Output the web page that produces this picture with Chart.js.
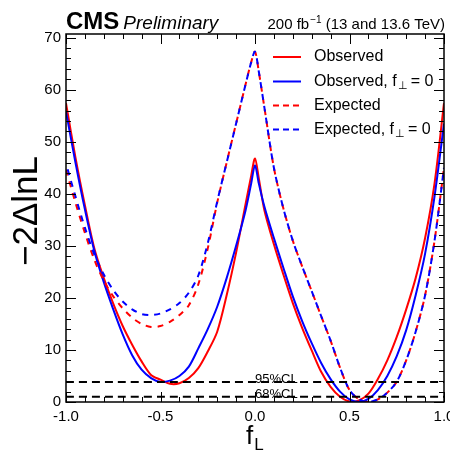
<!DOCTYPE html>
<html>
<head>
<meta charset="utf-8">
<script src="https://cdn.jsdelivr.net/npm/chart.js@4.4.0/dist/chart.umd.min.js"></script>
<style>
  html, body { margin: 0; padding: 0; background: #fff; }
</style>
</head>
<body>
<canvas id="myChart" width="450" height="451"></canvas>
<script>
"use strict";

// scan points (f_L)
const fL = [-1, -0.95, -0.9, -0.85, -0.8, -0.75, -0.7, -0.65, -0.6, -0.55, -0.5, -0.45, -0.4, -0.35, -0.3, -0.25, -0.2, -0.15, -0.1, -0.05, -0.02,
  0, 0.02, 0.05, 0.1, 0.15, 0.2, 0.25, 0.3, 0.35, 0.4, 0.45, 0.5, 0.55, 0.6, 0.65, 0.7, 0.75, 0.8, 0.85, 0.9, 0.95, 1];

// -2 delta lnL for each curve
const observed = [57.4, 47.0, 37.8, 29.5, 23.8, 18.9, 14.6, 11.0, 7.8, 5.2, 4.3, 3.5, 3.6, 4.6, 6.5, 9.7, 13.5, 20.5, 28.7, 38.0, 43.5,
  46.8, 43.0, 36.8, 30.3, 24.5, 19.0, 14.2, 9.9, 5.8, 2.9, 1.0, 0.1, 0.3, 1.6, 4.4, 8.0, 12.5, 17.8, 23.8, 31.5, 42.0, 57.4];
const observedPerp0 = [55.8, 46.0, 37.0, 29.0, 23.0, 17.8, 13.0, 9.0, 6.2, 4.6, 3.85, 4.1, 5.0, 6.8, 10.3, 14.0, 18.3, 23.8, 30.0, 36.8, 42.0,
  45.5, 42.0, 37.5, 31.5, 25.8, 20.3, 15.5, 11.3, 7.5, 4.4, 2.0, 0.5, 0.0, 0.6, 2.3, 5.0, 8.8, 13.8, 20.5, 28.5, 39.5, 53.5];
const expected = [44.6, 38.3, 32.5, 27.3, 23.3, 20.3, 18.0, 16.2, 15.0, 14.4, 14.6, 15.4, 16.7, 18.6, 22.6, 29.5, 38.3, 46.0, 53.5, 61.0, 65.3,
  67.3, 63.5, 56.5, 45.0, 37.2, 31.0, 26.0, 21.3, 16.5, 11.8, 6.6, 2.3, 0.5, 0.0, 0.5, 1.8, 3.9, 8.0, 13.5, 20.5, 31.0, 45.0];
const expectedPerp0 = [45.8, 39.5, 33.5, 28.3, 24.5, 21.5, 19.3, 17.8, 16.9, 16.7, 17.0, 17.8, 19.0, 21.0, 24.3, 30.5, 38.5, 46.0, 53.5, 61.0, 65.3,
  67.3, 63.5, 56.5, 45.0, 37.2, 31.0, 26.0, 21.3, 16.5, 11.8, 6.6, 2.3, 0.5, 0.0, 0.5, 1.8, 3.9, 8.0, 13.5, 20.5, 31.0, 45.0];

// confidence levels
const clValues = [3.84, 1];
const clLabels = ["95%CL", "68%CL"];

// axis ticks
const xTicks = [-1, -0.5, 0, 0.5, 1];
const yTicks = [0, 10, 20, 30, 40, 50, 60, 70];

const FONT = '"Liberation Sans", Arial, Helvetica, sans-serif';
Chart.defaults.font.family = FONT;
Chart.defaults.color = "#000";

function points(ys) {
  return fL.map((x, i) => ({ x: x, y: ys[i] }));
}

function clLine(v) {
  return [{ x: -1, y: v }, { x: 1, y: v }];
}

const datasets = [
  { label: clLabels[0], data: clLine(clValues[0]), borderColor: "#000", borderWidth: 2, borderDash: [8, 5] },
  { label: clLabels[1], data: clLine(clValues[1]), borderColor: "#000", borderWidth: 2, borderDash: [8, 5] },
  { label: "Expected, f_perp = 0", data: points(expectedPerp0), borderColor: "#0000ff", borderWidth: 2, borderDash: [6, 6], borderDashOffset: 6 },
  { label: "Expected", data: points(expected), borderColor: "#ff0000", borderWidth: 2, borderDash: [6, 6] },
  { label: "Observed, f_perp = 0", data: points(observedPerp0), borderColor: "#0000ff", borderWidth: 2 },
  { label: "Observed", data: points(observed), borderColor: "#ff0000", borderWidth: 2 }
];

// legend entries
const legendItems = [
  { text: "Observed", sub: false, color: "#ff0000", dash: [] },
  { text: "Observed, f", sub: true, color: "#0000ff", dash: [] },
  { text: "Expected", sub: false, color: "#ff0000", dash: [6, 4] },
  { text: "Expected, f", sub: true, color: "#0000ff", dash: [6, 4] }
];

const decor = {
  id: "decor",
  afterDraw(chart) {
    const ctx = chart.ctx;
    const a = chart.chartArea;
    const xs = chart.scales.x;
    const ys = chart.scales.y;
    ctx.save();
    ctx.fillStyle = "#000";
    ctx.strokeStyle = "#000";

    // frame
    ctx.lineWidth = 1.5;
    ctx.strokeRect(a.left, a.top, a.right - a.left, a.bottom - a.top);

    // ticks pointing inward
    ctx.lineWidth = 1;
    ctx.beginPath();
    for (let i = 0; i <= 20; i++) {
      const v = -1 + i * 0.1;
      const px = Math.round(xs.getPixelForValue(v)) + 0.5;
      const len = (i % 5 === 0) ? 10 : 5;
      ctx.moveTo(px, a.bottom); ctx.lineTo(px, a.bottom - len);
      ctx.moveTo(px, a.top); ctx.lineTo(px, a.top + len);
    }
    for (let v = 0; v <= 70; v += 2) {
      const py = Math.round(ys.getPixelForValue(v)) + 0.5;
      const len = (v % 10 === 0) ? 10 : 5;
      ctx.moveTo(a.left, py); ctx.lineTo(a.left + len, py);
      ctx.moveTo(a.right, py); ctx.lineTo(a.right - len, py);
    }
    ctx.stroke();

    // header
    ctx.textBaseline = "alphabetic";
    ctx.textAlign = "left";
    ctx.font = "bold 24px " + FONT;
    ctx.fillText("CMS", 66, 29);
    const cmsW = ctx.measureText("CMS").width;
    ctx.font = "italic 19px " + FONT;
    ctx.fillText("Preliminary", 66 + cmsW + 4, 29);

    ctx.font = "15px " + FONT;
    const t1 = "200 fb", t3 = " (13 and 13.6 TeV)";
    const w1 = ctx.measureText(t1).width, w3 = ctx.measureText(t3).width;
    ctx.font = "10px " + FONT;
    const w2 = ctx.measureText("\u22121").width;
    let hx = a.right - (w1 + w2 + w3);
    ctx.font = "15px " + FONT;
    ctx.fillText(t1, hx, 29);
    ctx.font = "10px " + FONT;
    ctx.fillText("\u22121", hx + w1 + 1, 23);
    ctx.font = "15px " + FONT;
    ctx.fillText(t3, hx + w1 + w2 + 1, 29);

    // y title
    ctx.save();
    ctx.translate(37, 211);
    ctx.rotate(-Math.PI / 2);
    ctx.textAlign = "center";
    ctx.font = "35px " + FONT;
    ctx.fillText("\u22122\u0394lnL", 0, 0);
    ctx.restore();

    // x title f_L
    ctx.font = "26px " + FONT;
    ctx.fillText("f", 246, 444);
    const fw = ctx.measureText("f").width;
    ctx.font = "17px " + FONT;
    ctx.fillText("L", 246 + fw + 1, 450);

    // CL labels
    ctx.font = "13px " + FONT;
    clValues.forEach((v, i) => {
      ctx.fillText(clLabels[i], xs.getPixelForValue(0), ys.getPixelForValue(v) + 1);
    });

    // legend
    const rows = [57, 81.5, 105.5, 129.5];
    legendItems.forEach((it, i) => {
      const y = rows[i];
      ctx.strokeStyle = it.color;
      ctx.lineWidth = 2;
      ctx.setLineDash(it.dash);
      ctx.beginPath();
      ctx.moveTo(273, y); ctx.lineTo(301, y);
      ctx.stroke();
      ctx.setLineDash([]);
      ctx.fillStyle = "#000";
      ctx.textBaseline = "middle";
      ctx.font = "16px " + FONT;
      ctx.fillText(it.text, 314, y);
      if (it.sub) {
        let x = 314 + ctx.measureText(it.text).width + 1;
        ctx.font = "11px " + FONT;
        ctx.fillText("\u22a5", x, y + 4);
        x += ctx.measureText("\u22a5").width + 3;
        ctx.font = "16px " + FONT;
        ctx.fillText("= 0", x, y);
      }
    });
    ctx.restore();
  }
};

const config = {
  type: "line",
  data: { datasets: datasets },
  options: {
    responsive: false,
    animation: false,
    layout: { padding: { top: 34, right: 6, left: 0, bottom: 0 } },
    elements: { point: { radius: 0 }, line: { tension: 0.3, fill: false } },
    plugins: { legend: { display: false }, tooltip: { enabled: false } },
    scales: {
      x: {
        type: "linear",
        min: -1,
        max: 1,
        afterBuildTicks: s => { s.ticks = xTicks.map(v => ({ value: v })); },
        afterFit: s => { s.height = 49; s.paddingLeft = 0; s.paddingRight = 0; },
        grid: { display: false, drawTicks: false },
        border: { display: false },
        ticks: { font: { size: 15 }, padding: 6, maxRotation: 0, autoSkip: false, callback: v => v.toFixed(1) }
      },
      y: {
        min: 0,
        max: 70.7,
        afterBuildTicks: s => { s.ticks = yTicks.map(v => ({ value: v })); },
        afterFit: s => { s.width = 66; s.paddingTop = 0; s.paddingBottom = 0; },
        grid: { display: false, drawTicks: false },
        border: { display: false },
        ticks: { font: { size: 15 }, padding: 5 }
      }
    }
  },
  plugins: [decor]
};

const myChart = new Chart(document.getElementById("myChart"), config);
</script>
</body>
</html>
